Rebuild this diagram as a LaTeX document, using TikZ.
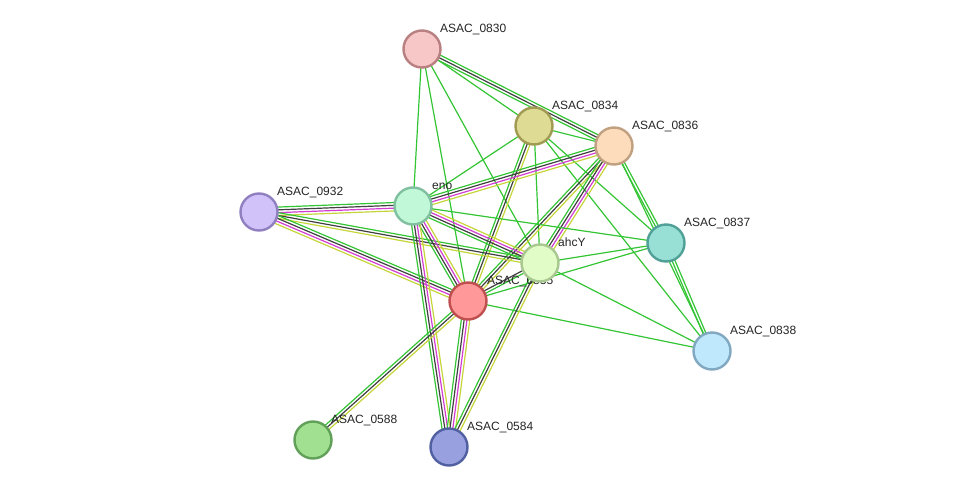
\documentclass[tikz,border=0pt]{standalone}
\usepackage{fontspec}
\setmainfont{Liberation Sans}
\usetikzlibrary{calc,backgrounds}
\pgfdeclarelayer{bgfill}
\pgfdeclarelayer{labels}
\pgfsetlayers{bgfill,background,labels,main}
\definecolor{cG}{HTML}{33C533}
\definecolor{cK}{HTML}{404040}
\definecolor{cM}{HTML}{D33CD3}
\definecolor{cY}{HTML}{C5D53A}
\tikzset{
  prot/.style={circle, draw, line width=2.4pt, minimum size=37pt, inner sep=0pt},
  lab/.style={anchor=base west, font=\fontsize{12}{14}\selectfont, text=black!85, inner sep=0pt},
  eG/.style={draw=cG, line width=1.2pt},
  eK/.style={draw=cK, line width=1.2pt},
  eM/.style={draw=cM, line width=1.2pt},
  eY/.style={draw=cY, line width=1.2pt},
}
\newcommand\bundle[3]{%
  \foreach \c [count=\i] in {#3} {\xdef\nbun{\i}}%
  \foreach \c [count=\i] in {#3} {%
    \pgfmathsetmacro\off{(\i-(\nbun+1)/2)*2.8}%
    \draw[\c] ($(#1)!\off pt!90:(#2)$) -- ($(#2)!\off pt!-90:(#1)$);
  }%
}
\begin{document}
\begin{tikzpicture}[x=1pt,y=-1pt]
\begin{pgfonlayer}{bgfill}
\fill[white] (0,0) rectangle (975,493);
\end{pgfonlayer}
\useasboundingbox (0,0) rectangle (975,493);
% nodes
\node[prot, fill={rgb,255:red,247;green,198;blue,198}, draw={rgb,255:red,184;green,128;blue,128}] (n830) at (422,49) {};
\node[prot, fill={rgb,255:red,222;green,219;blue,148}, draw={rgb,255:red,160;green,154;blue,82}] (n834) at (534,126) {};
\node[prot, fill={rgb,255:red,253;green,220;blue,188}, draw={rgb,255:red,192;green,160;blue,128}] (n836) at (614,146) {};
\node[prot, fill={rgb,255:red,210;green,194;blue,250}, draw={rgb,255:red,144;green,128;blue,192}] (n932) at (259,212) {};
\node[prot, fill={rgb,255:red,192;green,248;blue,216}, draw={rgb,255:red,128;green,192;blue,160}] (eno) at (413,206) {};
\node[prot, fill={rgb,255:red,152;green,224;blue,213}, draw={rgb,255:red,80;green,160;blue,152}] (n837) at (666,243) {};
\node[prot, fill={rgb,255:red,226;green,252;blue,200}, draw={rgb,255:red,168;green,200;blue,144}] (ahcY) at (540,263) {};
\node[prot, fill={rgb,255:red,255;green,152;blue,152}, draw={rgb,255:red,192;green,80;blue,80}] (n835) at (468,301) {};
\node[prot, fill={rgb,255:red,192;green,232;blue,252}, draw={rgb,255:red,128;green,168;blue,192}] (n838) at (712,351) {};
\node[prot, fill={rgb,255:red,160;green,224;blue,144}, draw={rgb,255:red,96;green,160;blue,88}] (n588) at (313,440) {};
\node[prot, fill={rgb,255:red,152;green,160;blue,224}, draw={rgb,255:red,80;green,96;blue,160}] (n584) at (449,447) {};
% edges
\begin{scope}[on background layer]
\bundle{n830}{n834}{eG}
\bundle{n830}{n836}{eG,eK,eG}
\bundle{n830}{eno}{eG}
\bundle{n830}{n835}{eG}
\bundle{n830}{ahcY}{eG}
\bundle{n834}{n836}{eG}
\bundle{n834}{eno}{eG}
\bundle{n834}{n835}{eG,eK,eY}
\bundle{n834}{ahcY}{eG}
\bundle{n834}{n837}{eG}
\bundle{n834}{n838}{eG}
\bundle{n836}{eno}{eG,eK,eM,eY}
\bundle{n836}{n835}{eG,eK,eY}
\bundle{n836}{ahcY}{eG,eK,eM,eY}
\bundle{n836}{n837}{eG,eG}
\bundle{n836}{n838}{eG}
\bundle{eno}{n932}{eG,eK,eM,eY}
\bundle{n932}{ahcY}{eY,eK,eG}
\bundle{n932}{n835}{eY,eM,eK,eG}
\bundle{eno}{n835}{eG,eK,eM,eY}
\bundle{eno}{ahcY}{eG,eK,eM,eY}
\bundle{eno}{n584}{eG,eK,eM,eY}
\bundle{eno}{n837}{eG}
\bundle{n835}{n584}{eG,eK,eM,eY}
\bundle{n835}{n588}{eG,eK,eY}
\bundle{n835}{ahcY}{eG,eK}
\bundle{n835}{n837}{eG}
\bundle{n835}{n838}{eG}
\bundle{ahcY}{n584}{eG,eK,eY}
\bundle{ahcY}{n837}{eG}
\bundle{ahcY}{n838}{eG}
\bundle{n837}{n838}{eG,eG}
\end{scope}
% labels
\begin{pgfonlayer}{labels}
\node[lab] (l830) at ($(n830)+(18,-17)$) {ASAC\_0830};
\node[lab] (l834) at ($(n834)+(18,-17)$) {ASAC\_0834};
\node[lab] (l836) at ($(n836)+(18,-17)$) {ASAC\_0836};
\node[lab] (l932) at ($(n932)+(18,-17)$) {ASAC\_0932};
\node[lab] (leno) at ($(eno)+(19,-17)$) {eno};
\node[lab] (l837) at ($(n837)+(18,-17)$) {ASAC\_0837};
\node[lab] (lahcY) at ($(ahcY)+(18,-17)$) {ahcY};
\node[lab] (l835) at ($(n835)+(19,-17)$) {ASAC\_0835};
\node[lab] (l838) at ($(n838)+(18,-17)$) {ASAC\_0838};
\node[lab] (l588) at ($(n588)+(18,-17)$) {ASAC\_0588};
\node[lab] (l584) at ($(n584)+(18,-17)$) {ASAC\_0584};
\end{pgfonlayer}
\end{tikzpicture}
\end{document}
